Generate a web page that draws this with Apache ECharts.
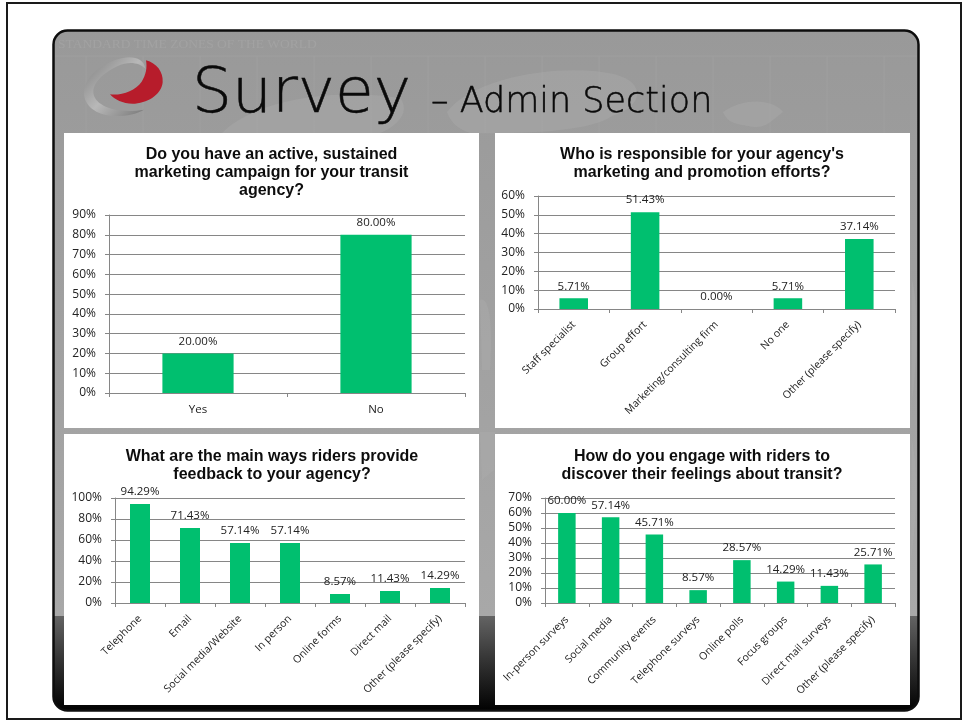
<!DOCTYPE html>
<html><head><meta charset="utf-8">
<style>html,body{margin:0;padding:0;background:#fff}#c{width:966px;height:721px}</style>
<script src="https://cdn.jsdelivr.net/npm/echarts@6/dist/echarts.min.js"></script>
</head><body><div id="c"></div>
<script>
const titles = [
  "Do you have an active, sustained\nmarketing campaign for your transit\nagency?",
  "Who is responsible for your agency's\nmarketing and promotion efforts?",
  "What are the main ways riders provide\nfeedback to your agency?",
  "How do you engage with riders to\ndiscover their feelings about transit?"
];
const cats0 = ["Yes","No"];
const vals0 = [20.00,80.00];
const cats1 = ["Staff specialist","Group effort","Marketing/consulting firm","No one","Other (please specify)"];
const vals1 = [5.71,51.43,0.00,5.71,37.14];
const cats2 = ["Telephone","Email","Social media/Website","In person","Online forms","Direct mail","Other (please specify)"];
const vals2 = [94.29,71.43,57.14,57.14,8.57,11.43,14.29];
const cats3 = ["In-person surveys","Social media","Community events","Telephone surveys","Online polls","Focus groups","Direct mail surveys","Other (please specify)"];
const vals3 = [60.00,57.14,45.71,8.57,28.57,14.29,11.43,25.71];
const yMax = [90,60,100,70];
const yStep = [10,10,20,10];
const cats = [cats0,cats1,cats2,cats3];
const vals = [vals0,vals1,vals2,vals3];

const grids = [
  {left:109,top:215,width:356,height:178},
  {left:538,top:196,width:357,height:113},
  {left:115,top:498,width:350,height:105},
  {left:545,top:498,width:350,height:105}
];
const titlePos = [[271.5,146],[702,146],[272,448],[702,448]];
const panels = [[64,133,415,295],[495,133,415,295],[64,434,415,271],[495,434,415,271]];
const labelMargin = [11,14,14,15];
const bodyFont = '"Open Sans","Noto Sans",sans-serif';
const axisGray = '#868686';

const land = [
  "M447 112 C480 70 590 62 625 78 C645 88 640 108 612 116 C590 132 520 134 470 133 C455 128 450 120 447 112 Z",
  "M723 112 C745 96 775 100 783 112 C770 122 765 130 748 126 C738 124 728 124 723 112 Z",
  "M222 133 C255 100 330 88 400 98 C410 110 400 125 380 133 Z",
  "M480 300 C490 295 493 330 490 370 L482 370 Z",
  "M480 432 L495 432 L494 470 L482 480 Z",
  "M912 280 C918 300 918 360 912 400 Z",
  "M912 440 C918 470 917 520 911 560 Z"
];
const logoGray = "M287 132 C270 112 235 108 205 122 C165 140 130 170 130 200 C130 240 195 268 282 254 C255 270 215 276 180 272 C130 266 100 235 102 200 C104 160 150 115 215 100 C250 92 280 100 287 132 Z";
const logoRed = "M288 106 C320 115 340 140 338 172 C335 205 300 232 255 236 C222 238 195 225 180 208 C215 212 255 198 275 170 C288 150 292 128 288 106 Z";
function reg(name,d){ echarts.graphic.registerShape(name, echarts.graphic.extendPath(d,{})); return name; }

const graphic = [
  {type:'rect',z:0,shape:{x:7,y:3,width:954,height:716},style:{fill:'#fff',stroke:'#1a1a1a',lineWidth:2}},
  {type:'rect',z:0,shape:{x:53.5,y:30.5,width:865,height:680,r:14},style:{
    fill:{type:'linear',x:0,y:0,x2:0,y2:1,colorStops:[
      {offset:0,color:'#999999'},{offset:0.86,color:'#a8a8a8'},
      {offset:0.8601,color:'#636363'},{offset:0.93,color:'#303030'},{offset:1,color:'#000000'}]},
    stroke:'#0d0d0d',lineWidth:2.5}},
  {type:'text',z:0,style:{x:58,y:37,text:'STANDARD TIME ZONES OF THE WORLD',fill:'#a2a2a2',font:'13.5px "Liberation Serif",serif'}},
  {type:'line',z:0,shape:{x1:55,y1:56,x2:917,y2:56},style:{stroke:'#9f9f9f',lineWidth:1}}
];
for(let x=86;x<917;x+=57){ graphic.push({type:'line',z:0,shape:{x1:x,y1:56,x2:x,y2:133},style:{stroke:'#9f9f9f',lineWidth:1}}); }
land.forEach((d,i)=>graphic.push({type:reg('land'+i,d),z:0,style:{fill:'#aeaeae',opacity:.35}}));
panels.forEach(p=>graphic.push({type:'rect',z:0,shape:{x:p[0],y:p[1],width:p[2],height:p[3]},style:{fill:'#fff'}}));
graphic.push({type:reg('logoGray',logoGray),z:1,position:[50,25],scale:[1/3,1/3],
  style:{fill:{type:'linear',x:0,y:0,x2:1,y2:1,colorStops:[{offset:0,color:'#7f7f7f'},{offset:.5,color:'#b8b8b8'},{offset:1,color:'#777777'}]}}});
graphic.push({type:reg('logoRed',logoRed),z:1,position:[50,25],scale:[1/3,1/3],style:{fill:'#b71c2b'}});
graphic.push({type:'text',z:1,style:{x:192,y:64,text:'Survey',fill:'#0a0a0a',stroke:'#0a0a0a',lineWidth:.5,font:'300 63px "DejaVu Sans Light","DejaVu Sans",sans-serif'}});
graphic.push({type:'text',z:1,style:{x:431,y:85,text:'– Admin Section',fill:'#0a0a0a',stroke:'#0a0a0a',lineWidth:.5,font:'300 35px "DejaVu Sans Light","DejaVu Sans",sans-serif'}});

const option = {
  animation:false,
  backgroundColor:'#fff',
  graphic:{elements:graphic},
  title:titles.map((t,i)=>({
    text:t,left:titlePos[i][0],top:titlePos[i][1],textAlign:'center',padding:0,
    textStyle:{fontFamily:'"Liberation Sans",Arial,sans-serif',fontWeight:'bold',fontSize:16,lineHeight:18,color:'#0d0d0d'}
  })),
  grid:grids,
  xAxis:cats.map((c,i)=>({
    type:'category',gridIndex:i,data:c,z:3,
    axisLine:{lineStyle:{color:axisGray,width:1}},
    axisTick:{show:true,alignWithLabel:false,length:4,lineStyle:{color:axisGray}},
    axisLabel:{interval:0,rotate:i===0?0:45,margin:labelMargin[i],fontFamily:bodyFont,fontSize:i===0?11.5:10.5,color:'#222'}
  })),
  yAxis:yMax.map((m,i)=>({
    type:'value',gridIndex:i,min:0,max:m,interval:yStep[i],z:3,
    axisLine:{show:true,lineStyle:{color:axisGray}},
    axisTick:{show:true,length:4,lineStyle:{color:axisGray}},
    splitLine:{show:true,lineStyle:{color:axisGray,width:1}},
    axisLabel:{formatter:'{value}%',margin:13,fontFamily:bodyFont,fontSize:12,color:'#222'}
  })),
  series:vals.map((v,i)=>({
    type:'bar',xAxisIndex:i,yAxisIndex:i,data:v,barWidth:'40%',z:4,
    itemStyle:{color:'#00BF6F'},
    label:{show:true,position:'top',distance:6,formatter:p=>p.value.toFixed(2)+'%',
      fontFamily:bodyFont,fontSize:11.5,color:'#222'}
  }))
};
const chart = echarts.init(document.getElementById('c'),null,{renderer:'canvas'});
chart.setOption(option);
</script></body></html>
